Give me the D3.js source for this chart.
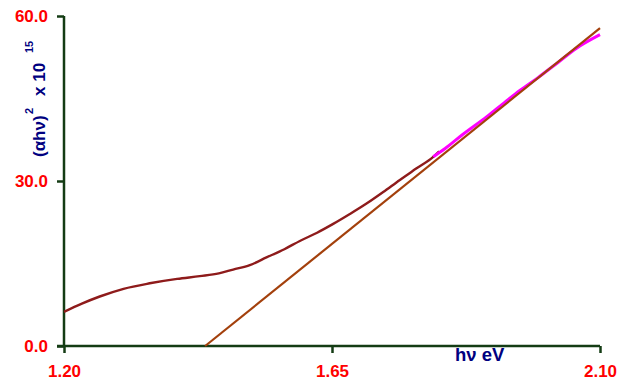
<!DOCTYPE html>
<html>
<head>
<meta charset="utf-8">
<script src="https://d3js.org/d3.v7.min.js"></script>
<style>
  body { margin: 0; background: #fff; }
  text { font-family: "Liberation Sans", Arial, sans-serif; font-weight: bold; }
</style>
</head>
<body>
<svg width="619" height="385"></svg>
<script>
// measured absorption curve, (alpha h nu)^2 x 10^15 vs photon energy (eV)
const curveEnergy = [1.200, 1.230, 1.260, 1.300, 1.344, 1.390, 1.428, 1.460, 1.484, 1.512, 1.540, 1.570, 1.596, 1.625, 1.652, 1.680, 1.708, 1.736, 1.764, 1.792, 1.820, 1.830];
const curveValue  = [6.2,   7.7,   9.0,   10.4,  11.4,  12.2,  12.7,  13.2,  13.9,  14.7,  16.1,  17.6,  19.1,  20.6,  22.2,  24.0,  25.9,  28.0,  30.2,  32.3,  34.4,  35.4];
// part of the curve used for the linear fit (drawn in magenta)
const fitRangeEnergy = [1.820, 1.840, 1.870, 1.910, 1.940, 1.966, 1.996, 2.030, 2.060, 2.100];
const fitRangeValue  = [34.4,  35.9,  38.5,  41.7,  44.3,  46.5,  48.8,  51.6,  54.1,  56.6];
// extrapolated straight line
const fitLineEnergy = [1.437, 2.100];
const fitLineValue  = [0.0,   57.8];
const xTicks = [1.20, 1.65, 2.10];
const yTicks = [0, 30, 60];

const svg = d3.select("svg");
const axisColor = "#143c14";

const x = d3.scaleLinear().domain([1.20, 2.10]).range([64, 600]);
const y = d3.scaleLinear().domain([0, 60]).range([346, 16]);

const line = d3.line()
    .x(d => x(d[0]))
    .y(d => y(d[1]))
    .curve(d3.curveMonotoneX);

// axes
const yAxis = svg.append("g")
    .attr("transform", "translate(64,0)")
    .call(d3.axisLeft(y).tickValues(yTicks).tickSize(7).tickPadding(9).tickFormat(d3.format(".1f")));
const xAxis = svg.append("g")
    .attr("transform", "translate(0,346)")
    .call(d3.axisBottom(x).tickValues(xTicks).tickSize(7).tickPadding(12).tickFormat(d3.format(".2f")));

[yAxis, xAxis].forEach(g => {
    g.select(".domain").remove();
    g.selectAll(".tick line").attr("stroke", axisColor).attr("stroke-width", 2.5);
    g.selectAll(".tick text")
        .attr("fill", "#ff0000")
        .attr("font-size", 17)
        .attr("font-family", "'Liberation Sans', Arial, sans-serif")
        .attr("font-weight", "bold");
});

svg.append("line")
    .attr("x1", 64).attr("x2", 64)
    .attr("y1", y(60)).attr("y2", y(0))
    .attr("stroke", axisColor).attr("stroke-width", 2.5);
svg.append("line")
    .attr("x1", 57).attr("x2", x(2.10))
    .attr("y1", y(0)).attr("y2", y(0))
    .attr("stroke", axisColor).attr("stroke-width", 2.5);

// data
svg.append("path")
    .datum(curveEnergy.map((e, i) => [e, curveValue[i]]))
    .attr("d", line)
    .attr("fill", "none")
    .attr("stroke", "#8e1b1b")
    .attr("stroke-width", 2.4);

svg.append("path")
    .datum(fitRangeEnergy.map((e, i) => [e, fitRangeValue[i]]))
    .attr("d", line)
    .attr("fill", "none")
    .attr("stroke", "#ff00ff")
    .attr("stroke-width", 3);

svg.append("path")
    .datum(fitLineEnergy.map((e, i) => [e, fitLineValue[i]]))
    .attr("d", d3.line().x(d => x(d[0])).y(d => y(d[1])))
    .attr("fill", "none")
    .attr("stroke", "#a3400c")
    .attr("stroke-width", 2.2);

// titles
svg.append("text")
    .attr("x", 455).attr("y", 361)
    .attr("fill", "#000080")
    .attr("font-size", 18.5)
    .text("hν eV");

// rotated y title; tspan x is minus the screen y where each piece starts
const yTitle = svg.append("text")
    .attr("transform", "translate(45,0) rotate(-90)")
    .attr("fill", "#000080")
    .attr("font-size", 17);
yTitle.append("tspan").attr("x", -157).attr("y", 0).text("(αhν)");
yTitle.append("tspan").attr("x", -114).attr("y", -12).attr("font-size", 11).text("2");
yTitle.append("tspan").attr("x", -96).attr("y", 0).text("x 10");
yTitle.append("tspan").attr("x", -53).attr("y", -12).attr("font-size", 11).text("15");
</script>
</body>
</html>
